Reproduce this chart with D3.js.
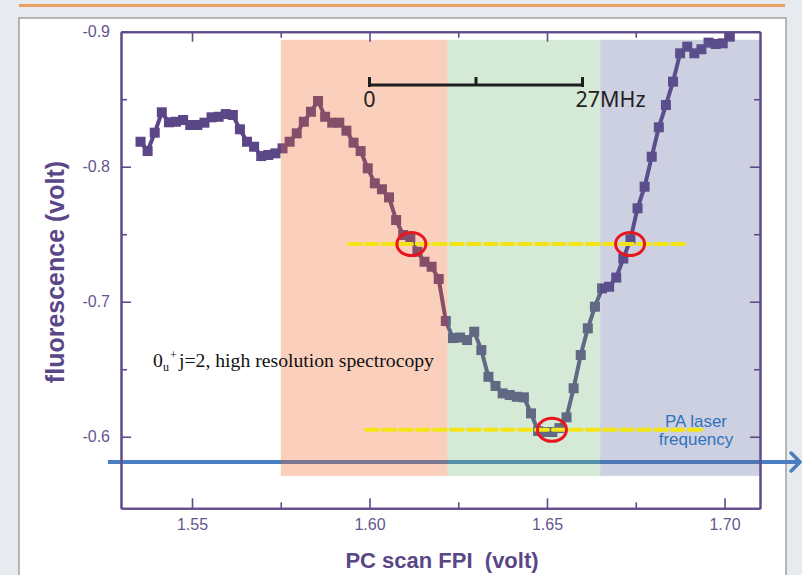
<!DOCTYPE html>
<html>
<head>
<meta charset="utf-8">
<script src="https://cdn.jsdelivr.net/npm/d3@7"></script>
<style>
  html, body { margin: 0; padding: 0; background: #e7eaee; }
  svg { display: block; }
</style>
</head>
<body>
<svg id="chart" width="802" height="575"></svg>
<script>
// PC scan FPI voltage (x) and fluorescence signal (y), 0u+ j=2 scan
const scanVolt = [
  1.5355, 1.5375, 1.5395, 1.5415, 1.5435, 1.5455, 1.5475, 1.5495, 1.5515, 1.5535,
  1.5555, 1.5575, 1.5595, 1.5615, 1.5635, 1.5655, 1.5675, 1.5695, 1.5715, 1.5735,
  1.5755, 1.5775, 1.5795, 1.5815, 1.5835, 1.5855, 1.5875, 1.5895, 1.5915, 1.5935,
  1.5955, 1.5975, 1.5995, 1.6015, 1.6035, 1.6055, 1.6075, 1.6095, 1.6115, 1.6135,
  1.6155, 1.6175, 1.6195, 1.6215, 1.6235, 1.6255, 1.6275, 1.6295, 1.6315, 1.6335,
  1.6355, 1.6375, 1.6395, 1.6415, 1.6435, 1.6455, 1.6475, 1.6495, 1.6515, 1.6535,
  1.6555, 1.6575, 1.6595, 1.6615, 1.6635, 1.6655, 1.6675, 1.6695, 1.6715, 1.6735,
  1.6755, 1.6775, 1.6795, 1.6815, 1.6835, 1.6855, 1.6875, 1.6895, 1.6915, 1.6935,
  1.6955, 1.6975, 1.6995, 1.7015
];
const fluorescence = [
  -0.8185, -0.8116, -0.8252, -0.8403, -0.8329, -0.8333, -0.8346, -0.8309, -0.8309, -0.8326,
  -0.8366, -0.8370, -0.8390, -0.8383, -0.8277, -0.8185, -0.8148, -0.8079, -0.8087, -0.8099,
  -0.8136, -0.8185, -0.8247, -0.8333, -0.8407, -0.8487, -0.8370, -0.8326, -0.8326, -0.8267,
  -0.8178, -0.8116, -0.7988, -0.7877, -0.7833, -0.7773, -0.7605, -0.7494, -0.7477, -0.7370,
  -0.7296, -0.7259, -0.7168, -0.6857, -0.6731, -0.6735, -0.6716, -0.6778, -0.6642, -0.6444,
  -0.6376, -0.6321, -0.6309, -0.6296, -0.6292, -0.6173, -0.6042, -0.6035, -0.6035, -0.6064,
  -0.6144, -0.6359, -0.6605, -0.6803, -0.6963, -0.7099, -0.7111, -0.7179, -0.7320, -0.7462,
  -0.7692, -0.7852, -0.8074, -0.8292, -0.8457, -0.8630, -0.8840, -0.8889, -0.8840, -0.8870,
  -0.8919, -0.8909, -0.8914, -0.8963
];

// axis ticks
const xMajorTicks = [1.55, 1.60, 1.65, 1.70];
const xTickLabels = ["1.55", "1.60", "1.65", "1.70"];
const xMinorTicks = [1.575, 1.625, 1.675];
const yMajorTicks = [-0.9, -0.8, -0.7, -0.6];
const yTickLabels = ["-0.9", "-0.8", "-0.7", "-0.6"];
const yMinorTicks = [-0.85, -0.75, -0.65];

// highlighted scan ranges (volt) and their colours
const bandStart = [1.575, 1.622, 1.665];
const bandEnd   = [1.622, 1.665, 1.710];
const bandColor = ["rgb(238,98,38)", "rgb(112,185,118)", "rgb(88,98,152)"];
const bandTop = -0.894, bandBottom = -0.571;

// half-maximum and minimum guide lines
const guideLevel = [-0.7427, -0.6052];
const guideFrom  = [1.5942, 1.5990];
const guideTo    = [1.6897, 1.6945];

// marked points on the line shape
const markX = [1.6118, 1.6734, 1.6514];
const markY = [-0.7427, -0.7427, -0.6051];

// FPI frequency scale: 0 .. 27 MHz
const scaleBarVolt = [1.60, 1.63, 1.66];
const scaleBarLabels = ["0", "27MHz"];
const scaleBarLevel = -0.8605;

// PA laser frequency
const laserLevel = -0.5813;
const laserFrom = 1.5263, laserTo = 1.7213;
const laserLabel = ["PA laser", "frequency"];

const SANS = "'Liberation Sans', Arial, sans-serif";
const svg = d3.select("#chart");
const W = 802, H = 575;

const x = d3.scaleLinear().domain([1.53, 1.71]).range([121, 760]);
const y = d3.scaleLinear().domain([-0.9, -0.547]).range([31.7, 508.3]);

const axisColor = "#5f4b8b";
const labelColor = "#66568e";
const dataColor = "#5b4688";

// page backdrop and white slide panel
svg.append("rect").attr("width", W).attr("height", H).attr("fill", "#e7eaee");
svg.append("line").attr("x1", 19).attr("x2", 785).attr("y1", 5.5).attr("y2", 5.5)
  .attr("stroke", "#e9a163").attr("stroke-width", 3);
svg.append("rect").attr("x", 19).attr("y", 18).attr("width", 767).attr("height", 600)
  .attr("fill", "#ffffff").attr("stroke", "#8c8c8c").attr("stroke-width", 1.2);

// data line with square markers
const pts = scanVolt.map((v, i) => [v, fluorescence[i]]);
const line = d3.line().x(d => x(d[0])).y(d => y(d[1]));
svg.append("path").datum(pts).attr("d", line)
  .attr("fill", "none").attr("stroke", dataColor).attr("stroke-width", 4);
const ms = 10;
svg.append("g").selectAll("rect").data(pts).join("rect")
  .attr("x", d => x(d[0]) - ms / 2).attr("y", d => y(d[1]) - ms / 2)
  .attr("width", ms).attr("height", ms).attr("fill", dataColor);

// laser frequency arrow
const ly = y(laserLevel);
svg.append("line").attr("x1", x(laserFrom)).attr("x2", x(laserTo) - 1)
  .attr("y1", ly).attr("y2", ly).attr("stroke", "#4a7ec0").attr("stroke-width", 4);
svg.append("path")
  .attr("d", `M${x(laserTo) - 9},${ly - 9} L${x(laserTo)},${ly} L${x(laserTo) - 9},${ly + 9}`)
  .attr("fill", "none").attr("stroke", "#4a7ec0").attr("stroke-width", 3.5)
  .attr("stroke-linecap", "round").attr("stroke-linejoin", "round");

// translucent scan-range bands
svg.append("g").selectAll("rect").data(bandStart).join("rect")
  .attr("x", (d, i) => x(d)).attr("width", (d, i) => x(bandEnd[i]) - x(d))
  .attr("y", y(bandTop)).attr("height", y(bandBottom) - y(bandTop))
  .attr("fill", (d, i) => bandColor[i]).attr("fill-opacity", 0.3);

// frame with inward ticks on all four sides
function frameAxis(axis, tr, size, ticks, labels) {
  const g = svg.append("g").attr("transform", tr)
    .call(axis.tickValues(ticks).tickSizeInner(-size).tickSizeOuter(0)
      .tickPadding(labels ? 10 : 0)
      .tickFormat(labels ? (d, i) => labels[i] : () => ""));
  g.select(".domain").attr("stroke", axisColor).attr("stroke-width", 2);
  g.selectAll(".tick line").attr("stroke", axisColor).attr("stroke-width", 1.6);
  g.selectAll(".tick text").attr("fill", labelColor)
    .style("font-size", "16px").style("font-family", SANS);
  return g;
}
const bottomY = y.range()[1], topY = y.range()[0];
const leftX = x.range()[0], rightX = x.range()[1];
frameAxis(d3.axisBottom(x), `translate(0,${bottomY})`, 10, xMajorTicks, xTickLabels);
frameAxis(d3.axisBottom(x), `translate(0,${bottomY})`, 6, xMinorTicks, null);
frameAxis(d3.axisTop(x), `translate(0,${topY})`, 10, xMajorTicks, null);
frameAxis(d3.axisTop(x), `translate(0,${topY})`, 6, xMinorTicks, null);
const yl = frameAxis(d3.axisLeft(y), `translate(${leftX},0)`, 10, yMajorTicks, yTickLabels);
yl.selectAll(".tick text").attr("dx", -1);
frameAxis(d3.axisLeft(y), `translate(${leftX},0)`, 6, yMinorTicks, null);
frameAxis(d3.axisRight(y), `translate(${rightX},0)`, 10, yMajorTicks, null);
frameAxis(d3.axisRight(y), `translate(${rightX},0)`, 6, yMinorTicks, null);

// axis titles
svg.append("text").attr("x", 442).attr("y", 568).attr("text-anchor", "middle")
  .style("font-family", SANS).style("font-size", "22px").style("font-weight", "bold")
  .attr("fill", "#5a4787").style("white-space", "pre").text("PC scan FPI  (volt)");
svg.append("text").attr("transform", "translate(64,272) rotate(-90)")
  .attr("text-anchor", "middle")
  .style("font-family", SANS).style("font-size", "25px").style("font-weight", "bold")
  .attr("fill", "#5a4787").text("fluorescence (volt)");

// yellow guide lines
svg.append("g").selectAll("line").data(guideLevel).join("line")
  .attr("x1", (d, i) => x(guideFrom[i])).attr("x2", (d, i) => x(guideTo[i]))
  .attr("y1", d => y(d)).attr("y2", d => y(d))
  .attr("stroke", "#f3e515").attr("stroke-width", 4)
  .attr("stroke-dasharray", "12 5").attr("stroke-linecap", "round");

// red circles
svg.append("g").selectAll("ellipse").data(markX).join("ellipse")
  .attr("cx", d => x(d)).attr("cy", (d, i) => y(markY[i]))
  .attr("rx", 14.5).attr("ry", 11.5)
  .attr("fill", "none").attr("stroke", "#e8161f").attr("stroke-width", 3);

// frequency scale bar
const sy = y(scaleBarLevel);
svg.append("line").attr("x1", x(scaleBarVolt[0])).attr("x2", x(scaleBarVolt[2]))
  .attr("y1", sy).attr("y2", sy).attr("stroke", "#1e1e1e").attr("stroke-width", 3);
svg.append("g").selectAll("line").data(scaleBarVolt).join("line")
  .attr("x1", d => x(d)).attr("x2", d => x(d))
  .attr("y1", sy - 8).attr("y2", (d, i) => i === 1 ? sy : sy + 2)
  .attr("stroke", "#1e1e1e").attr("stroke-width", 3);
const barFont = "'Noto Sans', 'Open Sans', sans-serif";
svg.append("text").attr("x", x(scaleBarVolt[0])).attr("y", 107)
  .attr("text-anchor", "middle").style("font-family", barFont)
  .style("font-size", "21.5px").attr("fill", "#222").text(scaleBarLabels[0]);
svg.append("text").attr("x", x(scaleBarVolt[2]) - 7).attr("y", 107)
  .style("font-family", barFont)
  .style("font-size", "21.5px").attr("fill", "#222").text(scaleBarLabels[1]);

// laser label
svg.append("g").selectAll("text").data(laserLabel).join("text")
  .attr("x", 696).attr("y", (d, i) => 427 + i * 18)
  .attr("text-anchor", "middle").style("font-family", SANS).style("font-size", "17px")
  .attr("fill", "#2f73be").text(d => d);

// state annotation: 0u+ with sub/superscripts, then the description
const serif = "'Liberation Serif', 'Times New Roman', serif";
const note = svg.append("g");
note.append("text").attr("x", 153).attr("y", 367)
  .style("font-family", serif).style("font-size", "19.7px").attr("fill", "#111")
  .text("0");
note.append("text").attr("x", 163).attr("y", 371)
  .style("font-family", serif).style("font-size", "12px").attr("fill", "#111")
  .text("u");
note.append("text").attr("x", 170).attr("y", 359)
  .style("font-family", serif).style("font-size", "12px").attr("fill", "#111")
  .text("+");
note.append("text").attr("x", 179).attr("y", 367)
  .style("font-family", serif).style("font-size", "19.7px").attr("fill", "#111")
  .text("j=2, high resolution spectrocopy");
</script>
</body>
</html>
